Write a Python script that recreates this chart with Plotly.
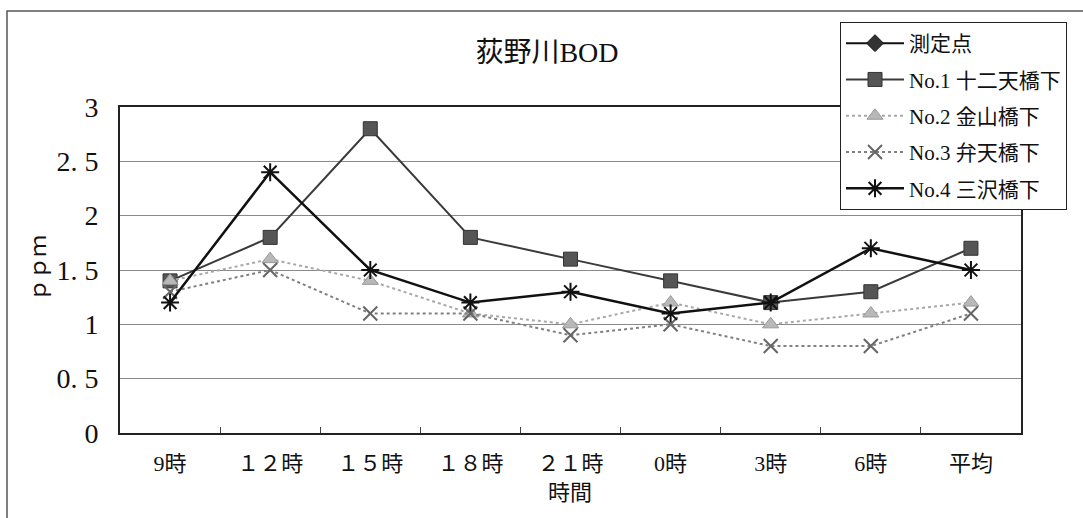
import plotly.graph_objects as go

# Sampling times (x categories)
times = ["9時", "１２時", "１５時", "１８時", "２１時", "0時", "3時", "6時", "平均"]

# BOD readings (ppm) at each station
no1_juniten = [1.4, 1.8, 2.8, 1.8, 1.6, 1.4, 1.2, 1.3, 1.7]
no2_kanayama = [1.4, 1.6, 1.4, 1.1, 1.0, 1.2, 1.0, 1.1, 1.2]
no3_benten = [1.3, 1.5, 1.1, 1.1, 0.9, 1.0, 0.8, 0.8, 1.1]
no4_misawa = [1.2, 2.4, 1.5, 1.2, 1.3, 1.1, 1.2, 1.7, 1.5]

# y-axis ticks
y_ticks = [0, 0.5, 1, 1.5, 2, 2.5, 3]
y_tick_text = ["0", "0. 5", "1", "1. 5", "2", "2. 5", "3"]

FONT = "Liberation Serif, Noto Sans CJK JP, serif"

W, H = 1083, 518
L, R, T, B = 120, 1021, 107, 433  # plot area in pixels


def px_x(p):
    return (p - L) / (R - L)


def px_y(p):
    return (B - p) / (B - T)


fig = go.Figure()

# legend-only header series
fig.add_trace(go.Scatter(
    x=times, y=[None] * len(times), name="測定点", mode="lines+markers",
    line=dict(color="#111111", width=2),
    marker=dict(symbol="diamond", size=13, color="#333333", line=dict(color="#111111", width=1)),
    legendgroup="g0"))

fig.add_trace(go.Scatter(
    x=times, y=no1_juniten, name="No.1 十二天橋下", mode="lines+markers",
    line=dict(color="#3a3a3a", width=2),
    marker=dict(symbol="square", size=14, color="#555555", line=dict(color="#333333", width=1)),
    legendgroup="g1"))

fig.add_trace(go.Scatter(
    x=times, y=no2_kanayama, name="No.2 金山橋下", mode="lines+markers",
    line=dict(color="#a8a8a8", width=2, dash="dot"),
    marker=dict(symbol="triangle-up", size=14, color="#b8b8b8", line=dict(color="#999999", width=1)),
    legendgroup="g2"))

fig.add_trace(go.Scatter(
    x=times, y=no3_benten, name="No.3 弁天橋下", mode="lines+markers",
    line=dict(color="#808080", width=2, dash="dot"),
    marker=dict(symbol="x-thin-open", size=14, color="#666666", line=dict(color="#666666", width=2)),
    legendgroup="g3"))

fig.add_trace(go.Scatter(
    x=times, y=no4_misawa, name="No.4 三沢橋下", mode="lines+markers",
    line=dict(color="#111111", width=2.5),
    marker=dict(symbol="asterisk-open", size=15, color="#111111", line=dict(color="#111111", width=2)),
    legendgroup="g4"))

fig.update_layout(
    width=W, height=H,
    margin=dict(l=L, r=W - R, t=T, b=H - B, pad=0),
    paper_bgcolor="white", plot_bgcolor="white",
    font=dict(family=FONT, size=20, color="#111111"),
    title=dict(text="荻野川BOD", x=547 / W, xanchor="center", y=1 - 52 / H, yanchor="middle",
               font=dict(family=FONT, size=28, color="#111111")),
    showlegend=True,
    legend=dict(x=px_x(840), y=px_y(22), xanchor="left", yanchor="top",
                bgcolor="white", bordercolor="#222222", borderwidth=1,
                font=dict(family=FONT, size=21, color="#111111"),
                tracegroupgap=6, itemwidth=58),
    xaxis=dict(
        type="category", range=[-0.5, len(times) - 0.5],
        showline=True, linecolor="#222222", linewidth=2, mirror=True,
        ticks="inside", ticklen=6, tickcolor="#444444", tickson="boundaries",
        showgrid=False, zeroline=False,
        tickfont=dict(family=FONT, size=22, color="#111111"),
        ticklabelstandoff=10,
    ),
    yaxis=dict(
        range=[0, 3], tickvals=y_ticks, ticktext=y_tick_text,
        showline=True, linecolor="#222222", linewidth=2, mirror=True,
        ticks="", showgrid=True, gridcolor="#8a8a8a", gridwidth=1, zeroline=False,
        tickfont=dict(family=FONT, size=28, color="#111111"),
        ticklabelstandoff=14,
    ),
    annotations=[
        dict(text="ｐｐｍ", xref="paper", yref="paper", x=px_x(38), y=px_y(268),
             xanchor="center", yanchor="middle", textangle=-90, showarrow=False,
             font=dict(family=FONT, size=22, color="#111111")),
        dict(text="時間", xref="paper", yref="paper", x=px_x(570), y=px_y(492),
             xanchor="center", yanchor="middle", showarrow=False,
             font=dict(family=FONT, size=22, color="#111111")),
    ],
    shapes=[
        dict(type="rect", xref="paper", yref="paper", layer="below",
             x0=px_x(7), x1=px_x(1095), y0=px_y(540), y1=px_y(11),
             line=dict(color="#555555", width=1.5), fillcolor="rgba(0,0,0,0)"),
    ],
)

fig.write_html("out.html")
